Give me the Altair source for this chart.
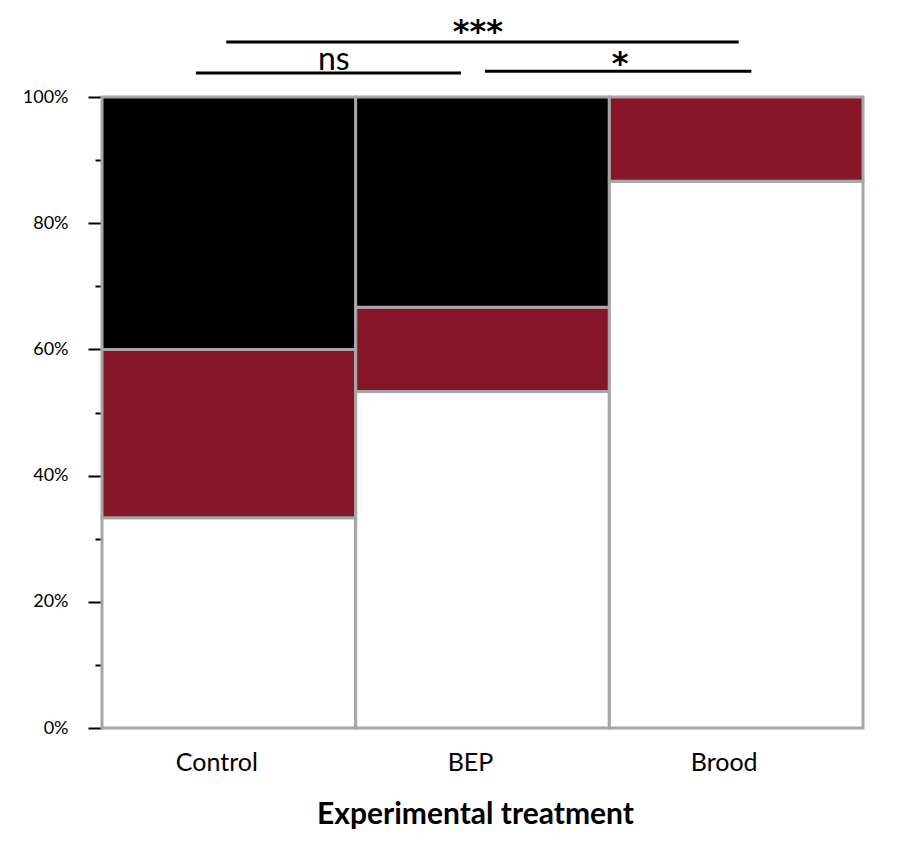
import altair as alt
import pandas as pd

treatments = ["Control", "BEP", "Brood"]
outcomes = ["Outcome 1", "Outcome 2", "Outcome 3"]  # bottom (white), middle (red), top (black)
counts_control = [5, 4, 6]
counts_bep = [8, 2, 5]
counts_brood = [13, 2, 0]
outcome_colors = ["#FFFFFF", "#861628", "#000000"]

sig_labels = ["***", "ns", "*"]
sig_x_start = [0.49, 0.37, 1.51]
sig_x_end = [2.51, 1.415, 2.56]
sig_line_y = [1.087, 1.038, 1.041]
sig_text_y = [1.087, 1.043, 1.036]
sig_text_x = [1.482, 0.914, 2.042]
sig_font_size = [32, 32, 32]

y_ticks = [round(i / 10, 1) for i in range(11)]

rows = []
for t, cs in zip(treatments, [counts_control, counts_bep, counts_brood]):
    for rank, (o, c) in enumerate(zip(outcomes, cs)):
        rows.append({"treatment": t, "outcome": o, "count": c, "rank": rank})
df = pd.DataFrame(rows)

sig = pd.DataFrame({
    "label": sig_labels,
    "x": sig_x_start,
    "x2": sig_x_end,
    "y": sig_line_y,
    "ty": sig_text_y,
    "tx": sig_text_x,
    "fs": sig_font_size,
})

font = "Lato"

bars = alt.Chart(df).transform_filter("datum.count > 0").mark_bar(
    stroke="#A6A6A6", strokeWidth=3
).encode(
    x=alt.X("treatment:N", sort=treatments, title="Experimental treatment",
            scale=alt.Scale(paddingInner=0, paddingOuter=0),
            axis=alt.Axis(labelAngle=0, ticks=False, domain=False, labelFont=font,
                          labelFontSize=25, labelColor="#000", labelPadding=22,
                          labelOffset=-12,
                          titleFont=font, titleFontSize=30, titleFontWeight="bold",
                          titleColor="#000", titlePadding=24,
                          titleX=373, titleAlign="center")),
    y=alt.Y("count:Q", stack="normalize", title=None,
            scale=alt.Scale(domain=[0, 1], nice=False),
            axis=alt.Axis(values=y_ticks, format=".0%", domain=False, grid=False,
                          labelExpr="round(datum.value*10) % 2 == 0 ? datum.label : ''",
                          tickSize={"condition": {"test": "round(datum.value*10) % 2 == 0", "value": 14}, "value": 7},
                          tickColor="#000", tickWidth=2, labelPadding=20,
                          labelFont=font, labelFontSize=18, labelColor="#000")),
    color=alt.Color("outcome:N", scale=alt.Scale(domain=outcomes, range=outcome_colors), legend=None),
    order=alt.Order("rank:Q"),
)

ann_x = alt.Scale(domain=[0, 3], nice=False, zero=False)
ann_y = alt.Scale(domain=[0, 1], nice=False)

lines = alt.Chart(sig).mark_rule(color="#000", strokeWidth=3, clip=False).encode(
    x=alt.X("x:Q", scale=ann_x, axis=None),
    x2="x2:Q",
    y=alt.Y("y:Q", scale=ann_y, axis=None),
)

ast_texts = alt.Chart(sig).transform_filter("datum.label != 'ns'").mark_text(
    color="#000", baseline="alphabetic", clip=False, font="DejaVu Sans", fontWeight="bold"
).encode(
    x=alt.X("tx:Q", scale=ann_x, axis=None),
    y=alt.Y("ty:Q", scale=ann_y, axis=None),
    text="label:N",
    size=alt.Size("fs:Q", scale=None),
)

ns_texts = alt.Chart(sig).transform_filter("datum.label == 'ns'").mark_text(
    color="#000", baseline="alphabetic", clip=False, font=font
).encode(
    x=alt.X("tx:Q", scale=ann_x, axis=None),
    y=alt.Y("ty:Q", scale=ann_y, axis=None),
    text="label:N",
    size=alt.Size("fs:Q", scale=None),
)

ann = alt.layer(lines, ast_texts, ns_texts)

chart = alt.layer(bars, ann).resolve_scale(x="independent", y="independent").properties(
    width=761, height=631,
    autosize=alt.AutoSizeParams(type="none"),
    padding={"left": 94, "top": 89, "right": 20, "bottom": 110},
).configure_view(stroke=None)

chart.save("out.html", embed_options={"renderer": "svg", "actions": False})
